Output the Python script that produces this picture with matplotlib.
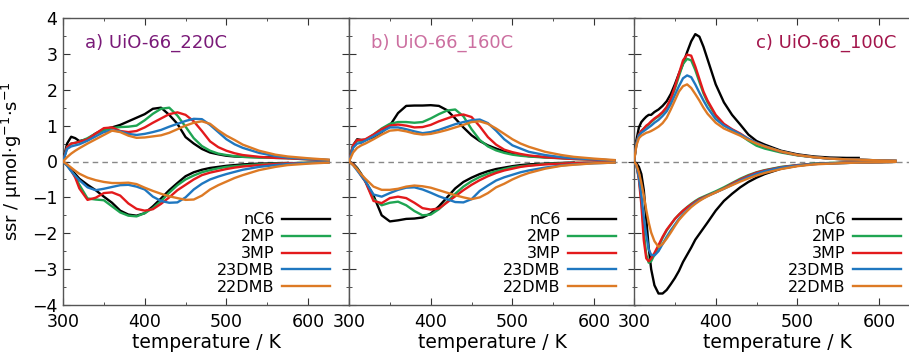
import numpy as np
import matplotlib
matplotlib.use("Agg")
import matplotlib.pyplot as plt
from matplotlib.ticker import MultipleLocator

# -----------------------------------------------------
# Data: temperature grids and ssr curves (upper = positive branch, lower = negative)
# -----------------------------------------------------

species = ["nC6", "2MP", "3MP", "23DMB", "22DMB"]
colors = ["#000000", "#1fa552", "#e31a1c", "#1f77c0", "#dd7a25"]

T_ab = [300, 305, 310, 315, 320, 330, 340, 350, 360, 370, 380, 390, 400, 410, 420,
        430, 440, 450, 460, 470, 480, 490, 500, 510, 520, 540, 560, 575, 600, 625]

up_a = {
    "nC6":   [0, 0.5, 0.69, 0.65, 0.57, 0.62, 0.78, 0.9, 0.95, 1.02, 1.12, 1.22, 1.32, 1.47, 1.5,
              1.3, 1.05, 0.68, 0.5, 0.35, 0.25, 0.2, 0.16, 0.14, 0.13, 0.12, 0.12, 0.1],
    "2MP":   [0, 0.4, 0.5, 0.52, 0.55, 0.65, 0.78, 0.87, 0.93, 0.96, 0.97, 1.0, 1.15, 1.33, 1.47,
              1.5, 1.28, 0.97, 0.65, 0.43, 0.3, 0.22, 0.18, 0.15, 0.13, 0.11, 0.1, 0.09, 0.06, 0.04],
    "3MP":   [0, 0.4, 0.5, 0.52, 0.55, 0.62, 0.78, 0.93, 0.95, 0.85, 0.82, 0.85, 0.95, 1.08, 1.2,
              1.32, 1.37, 1.3, 1.12, 0.85, 0.56, 0.4, 0.3, 0.23, 0.18, 0.13, 0.1, 0.09, 0.06, 0.04],
    "23DMB": [0, 0.35, 0.42, 0.45, 0.48, 0.58, 0.7, 0.82, 0.87, 0.84, 0.77, 0.74, 0.77, 0.82, 0.88,
              0.97, 1.05, 1.13, 1.19, 1.18, 1.02, 0.82, 0.62, 0.48, 0.38, 0.24, 0.15, 0.11, 0.07, 0.04],
    "22DMB": [0, 0.12, 0.22, 0.3, 0.37, 0.5, 0.62, 0.74, 0.86, 0.82, 0.72, 0.66, 0.67, 0.7, 0.73,
              0.8, 0.9, 1.0, 1.08, 1.12, 1.05, 0.87, 0.72, 0.6, 0.47, 0.3, 0.19, 0.14, 0.09, 0.05],
}
low_a = {
    "nC6":   [0, -0.1, -0.22, -0.35, -0.48, -0.65, -0.8, -0.98, -1.15, -1.37, -1.48, -1.51, -1.44, -1.25, -1.03,
              -0.8, -0.6, -0.41, -0.3, -0.23, -0.18, -0.15, -0.12, -0.1, -0.08, -0.06, -0.05, -0.04],
    "2MP":   [0, -0.1, -0.25, -0.42, -0.65, -1.03, -1.06, -1.08, -1.25, -1.42, -1.51, -1.53, -1.44, -1.3, -1.1,
              -0.87, -0.66, -0.5, -0.39, -0.3, -0.24, -0.19, -0.15, -0.13, -0.11, -0.08, -0.06, -0.05, -0.03, -0.02],
    "3MP":   [0, -0.1, -0.25, -0.45, -0.75, -1.07, -1.01, -0.88, -0.86, -0.95, -1.17, -1.32, -1.37, -1.33, -1.18,
              -1.0, -0.8, -0.65, -0.5, -0.38, -0.31, -0.26, -0.21, -0.17, -0.14, -0.1, -0.07, -0.05, -0.04, -0.02],
    "23DMB": [0, -0.12, -0.27, -0.4, -0.52, -0.72, -0.8, -0.76, -0.71, -0.66, -0.65, -0.7, -0.78, -0.98, -1.1,
              -1.15, -1.14, -1.0, -0.78, -0.62, -0.5, -0.42, -0.35, -0.29, -0.23, -0.15, -0.1, -0.07, -0.04, -0.02],
    "22DMB": [0, -0.08, -0.17, -0.26, -0.34, -0.45, -0.52, -0.57, -0.6, -0.6, -0.59, -0.63, -0.73, -0.82, -0.9,
              -0.97, -1.02, -1.07, -1.06, -0.95, -0.78, -0.66, -0.56, -0.46, -0.38, -0.24, -0.15, -0.1, -0.06, -0.03],
}

up_b = {
    "nC6":   [0, 0.45, 0.62, 0.6, 0.6, 0.68, 0.82, 1.0, 1.35, 1.55, 1.56, 1.56, 1.57, 1.55, 1.43,
              1.2, 0.95, 0.73, 0.57, 0.45, 0.36, 0.28, 0.22, 0.18, 0.15, 0.12, 0.1, 0.08],
    "2MP":   [0, 0.45, 0.58, 0.58, 0.6, 0.75, 0.92, 1.05, 1.1, 1.1, 1.08, 1.1, 1.2, 1.32, 1.42,
              1.45, 1.26, 0.9, 0.6, 0.42, 0.31, 0.24, 0.19, 0.16, 0.14, 0.11, 0.09, 0.07, 0.05, 0.03],
    "3MP":   [0, 0.45, 0.6, 0.6, 0.62, 0.75, 0.9, 1.0, 1.03, 1.0, 0.95, 0.96, 1.02, 1.12, 1.2,
              1.28, 1.31, 1.24, 0.98, 0.68, 0.47, 0.33, 0.26, 0.21, 0.17, 0.12, 0.09, 0.07, 0.05, 0.03],
    "23DMB": [0, 0.38, 0.5, 0.52, 0.58, 0.7, 0.83, 0.95, 0.95, 0.9, 0.84, 0.79, 0.82, 0.88, 0.96,
              1.04, 1.1, 1.15, 1.17, 1.07, 0.86, 0.62, 0.45, 0.36, 0.27, 0.18, 0.12, 0.09, 0.06, 0.03],
    "22DMB": [0, 0.25, 0.38, 0.45, 0.5, 0.62, 0.75, 0.86, 0.88, 0.84, 0.78, 0.75, 0.77, 0.82, 0.88,
              0.95, 1.02, 1.1, 1.12, 1.05, 0.92, 0.77, 0.62, 0.5, 0.41, 0.27, 0.18, 0.13, 0.08, 0.04],
}
low_b = {
    "nC6":   [0, -0.06, -0.18, -0.35, -0.55, -0.95, -1.5, -1.67, -1.64, -1.6, -1.59, -1.56, -1.45, -1.25, -1.0,
              -0.75, -0.57, -0.45, -0.35, -0.27, -0.21, -0.17, -0.13, -0.1, -0.08, -0.06, -0.04, -0.03],
    "2MP":   [0, -0.08, -0.2, -0.38, -0.55, -1.05, -1.22, -1.15, -1.12, -1.22, -1.38, -1.5, -1.48, -1.33, -1.12,
              -0.9, -0.7, -0.55, -0.43, -0.34, -0.27, -0.21, -0.16, -0.13, -0.11, -0.07, -0.05, -0.04, -0.03, -0.02],
    "3MP":   [0, -0.08, -0.22, -0.4, -0.56, -1.1, -1.16, -1.02, -0.98, -1.02, -1.15, -1.3, -1.34, -1.31, -1.14,
              -0.97, -0.8, -0.65, -0.52, -0.41, -0.32, -0.25, -0.2, -0.15, -0.12, -0.08, -0.06, -0.04, -0.03, -0.02],
    "23DMB": [0, -0.1, -0.25, -0.4, -0.55, -0.92, -0.98, -0.88, -0.79, -0.73, -0.72, -0.78, -0.87, -0.97, -1.05,
              -1.13, -1.14, -1.05, -0.82, -0.67, -0.53, -0.44, -0.37, -0.3, -0.25, -0.17, -0.11, -0.08, -0.05, -0.03],
    "22DMB": [0, -0.1, -0.22, -0.36, -0.48, -0.7, -0.79, -0.79, -0.76, -0.7, -0.67, -0.69, -0.73, -0.8, -0.87,
              -0.94, -1.0, -1.05, -1.0, -0.88, -0.72, -0.62, -0.5, -0.4, -0.32, -0.2, -0.12, -0.09, -0.05, -0.03],
}

T_c = [300, 303, 306, 309, 312, 315, 318, 321, 325, 330, 335, 340, 345, 350, 355, 360, 365, 370, 375,
       380, 385, 390, 400, 410, 420, 430, 440, 450, 460, 480, 500, 520, 540, 560, 575, 600, 620]

up_c = {
    "nC6":   [0, 0.6, 0.95, 1.1, 1.18, 1.25, 1.3, 1.3, 1.38, 1.45, 1.55, 1.68, 1.88, 2.15, 2.45, 2.72, 3.05, 3.35, 3.55,
              3.48, 3.2, 2.85, 2.15, 1.65, 1.3, 1.03, 0.75, 0.57, 0.47, 0.3, 0.2, 0.14, 0.11, 0.1, 0.1],
    "2MP":   [0, 0.5, 0.75, 0.85, 0.92, 0.98, 1.03, 1.1, 1.18, 1.26, 1.36, 1.5, 1.72, 2.02, 2.38, 2.72, 2.86, 2.82, 2.55,
              2.22, 1.9, 1.65, 1.27, 1.03, 0.88, 0.74, 0.58, 0.44, 0.36, 0.25, 0.17, 0.12, 0.08, 0.06, 0.05, 0.03, 0.02],
    "3MP":   [0, 0.5, 0.75, 0.85, 0.92, 1.0, 1.05, 1.12, 1.2, 1.28, 1.38, 1.52, 1.75, 2.08, 2.45, 2.82, 2.98, 2.95, 2.65,
              2.3, 1.95, 1.7, 1.3, 1.05, 0.9, 0.78, 0.63, 0.52, 0.42, 0.27, 0.18, 0.12, 0.08, 0.06, 0.05, 0.03, 0.02],
    "23DMB": [0, 0.5, 0.72, 0.8, 0.85, 0.9, 0.95, 1.0, 1.08, 1.16, 1.27, 1.4, 1.6, 1.85, 2.1, 2.32, 2.4, 2.35, 2.15,
              1.92, 1.7, 1.5, 1.18, 1.0, 0.88, 0.76, 0.63, 0.52, 0.43, 0.28, 0.18, 0.12, 0.08, 0.06, 0.05, 0.03, 0.02],
    "22DMB": [0, 0.45, 0.65, 0.72, 0.76, 0.8, 0.82, 0.85, 0.9, 0.97, 1.07, 1.22, 1.45, 1.7, 1.95, 2.1, 2.15, 2.05, 1.88,
              1.7, 1.5, 1.33, 1.08, 0.92, 0.82, 0.72, 0.6, 0.5, 0.42, 0.28, 0.18, 0.12, 0.08, 0.06, 0.05, 0.03, 0.02],
}
low_c = {
    "nC6":   [0, -0.05, -0.15, -0.35, -0.8, -1.6, -2.4, -3.0, -3.45, -3.68, -3.68, -3.58, -3.42, -3.25, -3.05, -2.8, -2.6, -2.4, -2.18,
              -2.02, -1.86, -1.7, -1.37, -1.1, -0.9, -0.72, -0.57, -0.45, -0.35, -0.2, -0.12, -0.07, -0.05, -0.04, -0.03],
    "2MP":   [0, -0.1, -0.45, -1.05, -1.95, -2.6, -2.82, -2.78, -2.6, -2.37, -2.13, -1.92, -1.76, -1.6, -1.48, -1.37, -1.27, -1.18, -1.1,
              -1.03, -0.98, -0.93, -0.83, -0.72, -0.6, -0.48, -0.38, -0.3, -0.24, -0.15, -0.1, -0.06, -0.04, -0.03, -0.03, -0.02, -0.01],
    "3MP":   [0, -0.1, -0.5, -1.2, -2.2, -2.7, -2.78, -2.7, -2.55, -2.33, -2.1, -1.9, -1.75, -1.6, -1.48, -1.37, -1.28, -1.2, -1.12,
              -1.05, -1.0, -0.95, -0.86, -0.75, -0.62, -0.5, -0.4, -0.31, -0.25, -0.16, -0.1, -0.07, -0.05, -0.03, -0.03, -0.02, -0.01],
    "23DMB": [0, -0.12, -0.45, -0.95, -1.55, -2.05, -2.45, -2.6, -2.62, -2.5, -2.3, -2.1, -1.92, -1.76, -1.6, -1.47, -1.36, -1.25, -1.15,
              -1.08, -1.02, -0.96, -0.86, -0.76, -0.65, -0.53, -0.43, -0.34, -0.27, -0.17, -0.11, -0.07, -0.05, -0.04, -0.03, -0.02, -0.01],
    "22DMB": [0, -0.1, -0.3, -0.6, -0.95, -1.35, -1.7, -1.98, -2.22, -2.38, -2.3, -2.15, -1.98, -1.8, -1.63, -1.5, -1.38, -1.27, -1.18,
              -1.1, -1.03, -0.97, -0.86, -0.76, -0.66, -0.56, -0.47, -0.39, -0.32, -0.21, -0.13, -0.08, -0.06, -0.04, -0.03, -0.02, -0.01],
}

panel_titles = ["a) UiO-66_220C", "b) UiO-66_160C", "c) UiO-66_100C"]
title_colors = ["#7a1a78", "#cc6fa0", "#a3164c"]

# -----------------------------------------------------
# Figure
# -----------------------------------------------------

plt.rcParams["font.family"] = "DejaVu Sans"

fig = plt.figure(figsize=(9.09, 3.54), dpi=100)

ax_w = 286 / 909
ax_h = 287 / 354
bottom = 49 / 354
lefts = [63 / 909, 349 / 909, 634 / 909]

panels = [
    (T_ab, up_a, low_a),
    (T_ab, up_b, low_b),
    (T_c, up_c, low_c),
]

for i, (T, up, low) in enumerate(panels):
    ax = fig.add_axes([lefts[i], bottom, ax_w, ax_h])

    ax.axhline(0, color="#888888", lw=1.0, ls=(0, (4, 3)), zorder=1)

    handles = []
    for name, col in zip(species, colors):
        n_up = len(up[name])
        n_low = len(low[name])
        h, = ax.plot(T[:n_up], up[name], color=col, lw=1.7, label=name, zorder=3)
        ax.plot(T[:n_low], low[name], color=col, lw=1.7, zorder=3)
        handles.append(h)

    ax.set_xlim(300, 650)
    ax.set_ylim(-4, 4)
    ax.xaxis.set_minor_locator(MultipleLocator(50))
    ax.yaxis.set_major_locator(MultipleLocator(1))
    ax.yaxis.set_minor_locator(MultipleLocator(0.5))
    ax.set_xticks([300, 400, 500, 600])

    ax.tick_params(which="both", direction="in", top=True, right=True,
                   labelsize=12.5, color="#333333")
    ax.tick_params(axis="x", which="major", pad=6)
    ax.tick_params(axis="y", which="major", pad=4)
    ax.tick_params(which="major", length=5)
    ax.tick_params(which="minor", length=2.5)
    for sp in ax.spines.values():
        sp.set_color("#555555")
        sp.set_linewidth(1.0)

    if i > 0:
        ax.tick_params(labelleft=False)
    else:
        ax.set_ylabel("ssr / µmol·g$^{-1}$·s$^{-1}$", fontsize=13, labelpad=6)

    ax.set_xlabel("temperature / K", fontsize=13.5, labelpad=1)

    if i < 2:
        ax.text(0.077, 0.915, panel_titles[i], transform=ax.transAxes,
                color=title_colors[i], fontsize=13, ha="left", va="center")
    else:
        ax.text(0.917, 0.915, panel_titles[i], transform=ax.transAxes,
                color=title_colors[i], fontsize=13, ha="right", va="center")

    ax.legend(handles=handles, loc="lower right", bbox_to_anchor=(0.935, 0.035),
              frameon=False, markerfirst=False, fontsize=11.5, handlelength=3.0,
              handletextpad=0.5, labelspacing=0.12, borderpad=0, borderaxespad=0)

fig.savefig("out.png", dpi=100)
